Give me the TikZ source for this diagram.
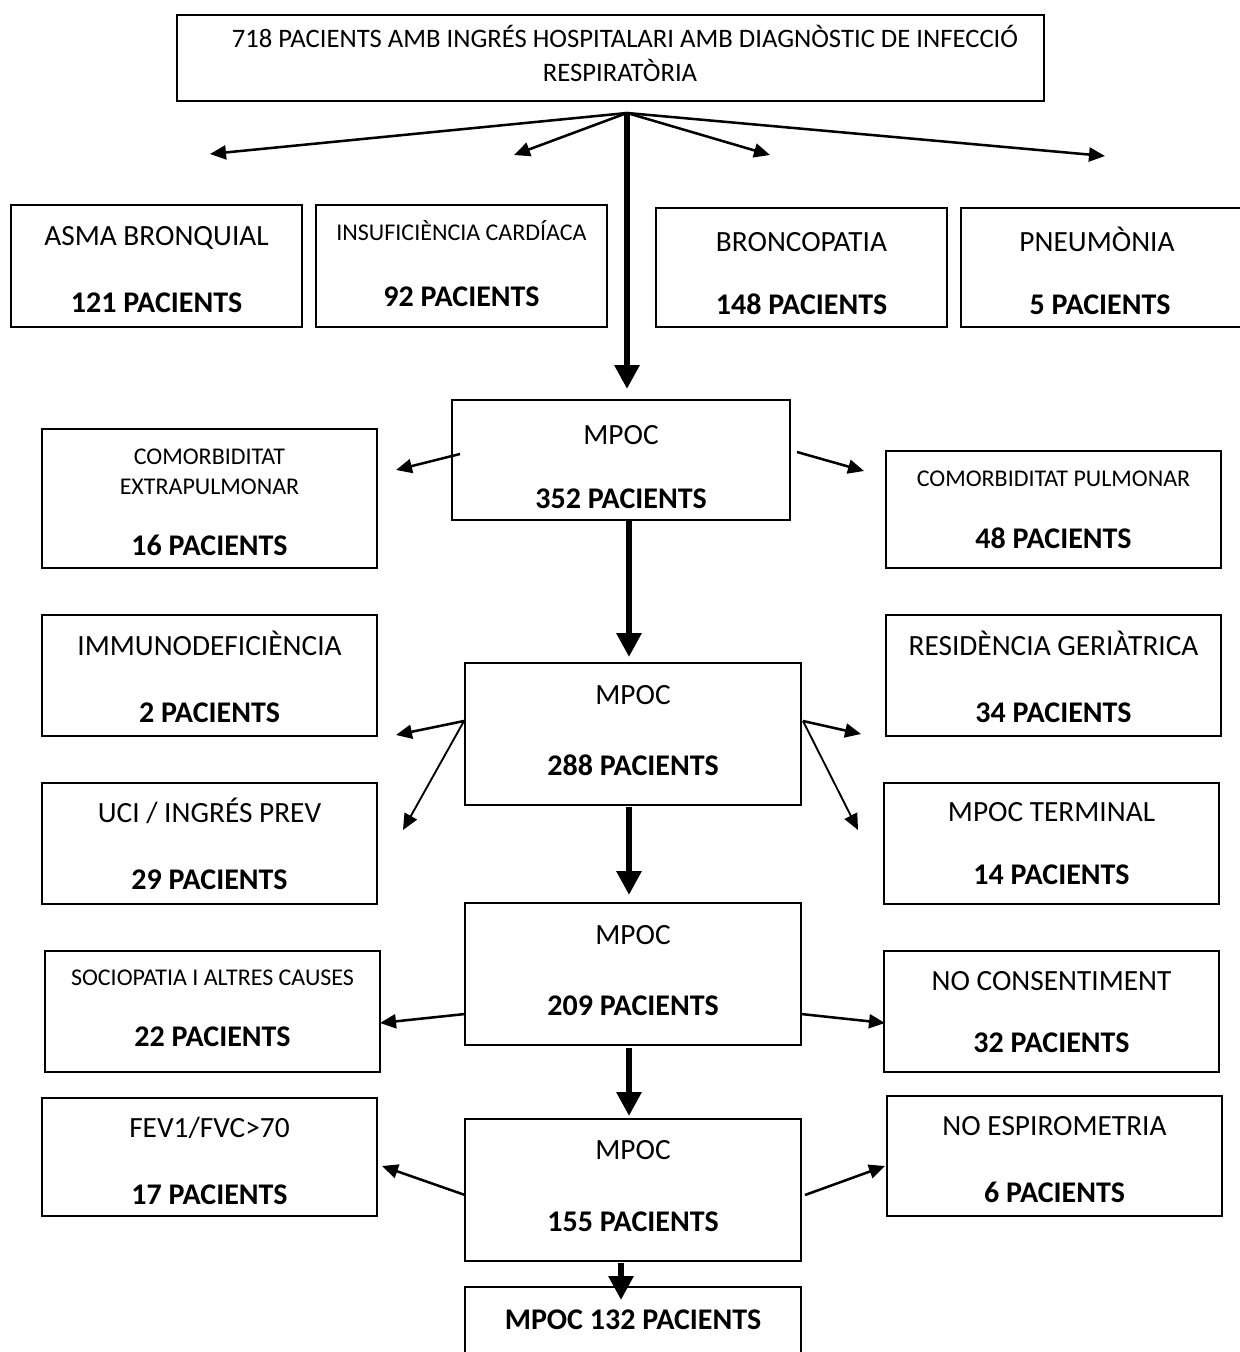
\documentclass[tikz,border=0pt]{standalone}
\usepackage{fontspec}
\setmainfont{Carlito}
\usetikzlibrary{arrows.meta,fit}
\begin{document}
\begin{tikzpicture}[x=0.75pt,y=-0.75pt,
 box/.style={draw,line width=1.2pt,inner sep=0pt,rectangle},
 txt/.style={inner sep=0pt,text height=13.9pt,text depth=0pt,font=\fontsize{22}{26}\selectfont},
 stxt/.style={inner sep=0pt,text height=11.3pt,text depth=0pt,font=\fontsize{18}{22}\selectfont},
 btxt/.style={inner sep=0pt,text height=14.2pt,text depth=0pt,font=\fontsize{22.5}{27}\selectfont\bfseries},
 ttxt/.style={inner sep=0pt,text height=12.6pt,text depth=0pt,font=\fontsize{20}{24}\selectfont},
 thinarrow/.style={line width=1.9pt,-{Triangle[length=12pt,width=10.5pt]}},
 thinnerarrow/.style={line width=1.4pt,-{Triangle[length=12pt,width=10.5pt]}},
 thickarrow/.style={line width=4.5pt,-{Triangle[length=18pt,width=18pt]}},
]
\useasboundingbox (0,0) rectangle (1239,1352);
\fill[white] (0,0) rectangle (1239,1352);

% top box
\node[box,fit={(177,15)(1044,101)}] (top) {};
\node[ttxt] (top-a) at (625,39) {718 PACIENTS AMB INGRÉS HOSPITALARI AMB DIAGNÒSTIC DE INFECCIÓ};
\node[ttxt] (top-b) at (620,73) {RESPIRATÒRIA};

% first row
\node[box,fit={(11,205)(302,327)}] (asma) {};
\node[txt] (asma-a) at (asma |- 0,236) {ASMA BRONQUIAL};
\node[btxt] (asma-b) at (asma |- 0,303) {121 PACIENTS};

\node[box,fit={(316,205)(607,327)}] (insuf) {};
\node[stxt] (insuf-a) at (insuf |- 0,233) {INSUFICIÈNCIA CARDÍACA};
\node[btxt] (insuf-b) at (insuf |- 0,297) {92 PACIENTS};

\node[box,fit={(656,208)(947,327)}] (bronco) {};
\node[txt] (bronco-a) at (bronco |- 0,242) {BRONCOPATIA};
\node[btxt] (bronco-b) at (bronco |- 0,305) {148 PACIENTS};

\node[box,fit={(961,208)(1244,327)}] (pneum) {};
\node[txt] (pneum-a) at (1097,242) {PNEUMÒNIA};
\node[btxt] (pneum-b) at (1100,305) {5 PACIENTS};

% MPOC 352
\node[box,fit={(452,400)(790,520)}] (m1) {};
\node[txt] (m1-a) at (m1 |- 0,435) {MPOC};
\node[btxt] (m1-b) at (m1 |- 0,499) {352 PACIENTS};

\node[box,fit={(42,429)(377,568)}] (cext) {};
\node[stxt] (cext-a) at (cext |- 0,457) {COMORBIDITAT};
\node[stxt] (cext-b) at (cext |- 0,487) {EXTRAPULMONAR};
\node[btxt] (cext-c) at (cext |- 0,546) {16 PACIENTS};

\node[box,fit={(886,451)(1221,568)}] (cpul) {};
\node[stxt] (cpul-a) at (cpul |- 0,479) {COMORBIDITAT PULMONAR};
\node[btxt] (cpul-b) at (cpul |- 0,539) {48 PACIENTS};

% MPOC 288
\node[box,fit={(465,663)(801,805)}] (m2) {};
\node[txt] (m2-a) at (m2 |- 0,695) {MPOC};
\node[btxt] (m2-b) at (m2 |- 0,766) {288 PACIENTS};

\node[box,fit={(42,615)(377,736)}] (immuno) {};
\node[txt] (immuno-a) at (immuno |- 0,646) {IMMUNODEFICIÈNCIA};
\node[btxt] (immuno-b) at (immuno |- 0,713) {2 PACIENTS};

\node[box,fit={(886,615)(1221,736)}] (resid) {};
\node[txt] (resid-a) at (resid |- 0,646) {RESIDÈNCIA GERIÀTRICA};
\node[btxt] (resid-b) at (resid |- 0,713) {34 PACIENTS};

\node[box,fit={(42,783)(377,904)}] (uci) {};
\node[txt] (uci-a) at (uci |- 0,813) {UCI / INGRÉS PREV};
\node[btxt] (uci-b) at (uci |- 0,880) {29 PACIENTS};

\node[box,fit={(884,783)(1219,904)}] (term) {};
\node[txt] (term-a) at (term |- 0,812) {MPOC TERMINAL};
\node[btxt] (term-b) at (term |- 0,875) {14 PACIENTS};

% MPOC 209
\node[box,fit={(465,903)(801,1045)}] (m3) {};
\node[txt] (m3-a) at (m3 |- 0,935) {MPOC};
\node[btxt] (m3-b) at (m3 |- 0,1006) {209 PACIENTS};

\node[box,fit={(45,951)(380,1072)}] (socio) {};
\node[stxt] (socio-a) at (socio |- 0,978) {SOCIOPATIA I ALTRES CAUSES};
\node[btxt] (socio-b) at (socio |- 0,1037) {22 PACIENTS};

\node[box,fit={(884,951)(1219,1072)}] (nocons) {};
\node[txt] (nocons-a) at (nocons |- 0,981) {NO CONSENTIMENT};
\node[btxt] (nocons-b) at (nocons |- 0,1043) {32 PACIENTS};

% MPOC 155
\node[box,fit={(465,1119)(801,1261)}] (m4) {};
\node[txt] (m4-a) at (m4 |- 0,1150) {MPOC};
\node[btxt] (m4-b) at (m4 |- 0,1222) {155 PACIENTS};

\node[box,fit={(42,1098)(377,1216)}] (fev) {};
\node[txt] (fev-a) at (fev |- 0,1128) {FEV1/FVC>70};
\node[btxt] (fev-b) at (fev |- 0,1195) {17 PACIENTS};

\node[box,fit={(887,1096)(1222,1216)}] (noesp) {};
\node[txt] (noesp-a) at (noesp |- 0,1126) {NO ESPIROMETRIA};
\node[btxt] (noesp-b) at (noesp |- 0,1193) {6 PACIENTS};

% final
\node[box,fit={(465,1287)(801,1370)}] (final) {};
\node[btxt] (final-a) at (633,1320) {MPOC 132 PACIENTS};

% coordinates for connectors
\coordinate (hub) at (627,113);
\coordinate (e-asma) at (210,154);
\coordinate (e-insuf) at (514,155);
\coordinate (e-bronco) at (770,155);
\coordinate (e-pneum) at (1105,156);
\coordinate (e-m1) at (627,389);

\coordinate (s-m1l) at (460,454);
\coordinate (e-cext) at (396,470);
\coordinate (s-m1r) at (797,452);
\coordinate (e-cpul) at (864,471);
\coordinate (s-m1d) at (629,520);
\coordinate (e-m2) at (629,657);

\coordinate (s-m2l) at (464,721);
\coordinate (e-immuno) at (396,735);
\coordinate (e-uci) at (403,830);
\coordinate (s-m2r) at (803,721);
\coordinate (e-resid) at (861,734);
\coordinate (e-term) at (858,830);
\coordinate (s-m2d) at (629,807);
\coordinate (e-m3) at (629,895);

\coordinate (s-m3l) at (465,1014);
\coordinate (e-socio) at (380,1023);
\coordinate (s-m3r) at (801,1014);
\coordinate (e-nocons) at (885,1023);
\coordinate (s-m3d) at (629,1048);
\coordinate (e-m4) at (629,1116);

\coordinate (s-m4l) at (465,1195);
\coordinate (e-fev) at (382,1166);
\coordinate (s-m4r) at (805,1195);
\coordinate (e-noesp) at (885,1166);
\coordinate (s-m4d) at (621,1263);
\coordinate (e-final) at (621,1300);

% connectors
\draw[thinarrow] (hub) -- (e-asma);
\draw[thinarrow] (hub) -- (e-insuf);
\draw[thinarrow] (hub) -- (e-bronco);
\draw[thinarrow] (hub) -- (e-pneum);
\draw[thickarrow] (hub) -- (e-m1);

\draw[thinarrow] (s-m1l) -- (e-cext);
\draw[thinarrow] (s-m1r) -- (e-cpul);
\draw[thickarrow] (s-m1d) -- (e-m2);

\draw[thinarrow] (s-m2l) -- (e-immuno);
\draw[thinnerarrow] (s-m2l) -- (e-uci);
\draw[thinarrow] (s-m2r) -- (e-resid);
\draw[thinnerarrow] (s-m2r) -- (e-term);
\draw[thickarrow] (s-m2d) -- (e-m3);

\draw[thinarrow] (s-m3l) -- (e-socio);
\draw[thinarrow] (s-m3r) -- (e-nocons);
\draw[thickarrow] (s-m3d) -- (e-m4);

\draw[thinarrow] (s-m4l) -- (e-fev);
\draw[thinarrow] (s-m4r) -- (e-noesp);
\draw[thickarrow] (s-m4d) -- (e-final);
\end{tikzpicture}
\end{document}
